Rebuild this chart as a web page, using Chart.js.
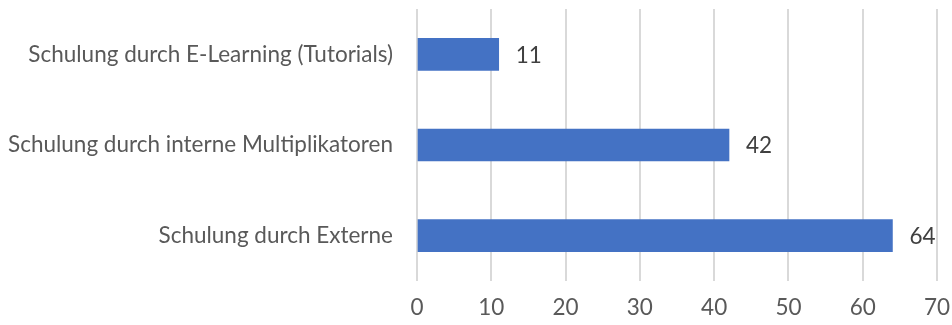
<!DOCTYPE html>
<html>
<head>
<meta charset="utf-8">
<script src="https://cdn.jsdelivr.net/npm/chart.js@4"></script>
<style>
  html, body { margin: 0; padding: 0; background: #fff; }
  #wrap { width: 952px; height: 325px; }
</style>
</head>
<body>
<div id="wrap"><canvas id="chart"></canvas></div>
<script>
// Daten aus dem Diagramm
var categories = [
    "Schulung durch E-Learning (Tutorials)",
    "Schulung durch interne Multiplikatoren",
    "Schulung durch Externe"
];
var values = [11, 42, 64];
var xTicks = [0, 10, 20, 30, 40, 50, 60, 70];

var fontFamily = "Lato, 'Open Sans', sans-serif";
var fontSize = 22.5;

// Werte neben die Balken schreiben
var valueLabels = {
    id: 'valueLabels',
    afterDatasetsDraw: function (chart) {
        var ctx = chart.ctx;
        var meta = chart.getDatasetMeta(0);
        ctx.save();
        ctx.font = fontSize + "px " + fontFamily;
        ctx.fillStyle = "#404040";
        ctx.textAlign = "left";
        ctx.textBaseline = "middle";
        meta.data.forEach(function (bar, i) {
            ctx.fillText(String(values[i]), bar.x + 17, bar.y + 1);
        });
        ctx.restore();
    }
};

var ctx = document.getElementById('chart').getContext('2d');
var chart = new Chart(ctx, {
    type: 'bar',
    data: {
        labels: categories,
        datasets: [{
            data: values,
            backgroundColor: "#4472C4",
            borderWidth: 0,
            barThickness: 32
        }]
    },
    options: {
        indexAxis: 'y',
        responsive: true,
        maintainAspectRatio: false,
        animation: false,
        layout: { padding: { top: 9, right: 15, left: 0, bottom: 0 } },
        plugins: {
            legend: { display: false },
            tooltip: { enabled: false }
        },
        scales: {
            x: {
                min: 0,
                max: 70,
                afterBuildTicks: function (axis) {
                    axis.ticks = xTicks.map(function (v) { return { value: v }; });
                },
                afterFit: function (axis) {
                    axis.height = 44;
                    axis.paddingLeft = 0;
                    axis.paddingRight = 0;
                },
                grid: { color: "#d9d9d9", lineWidth: 2, drawTicks: false },
                border: { display: false },
                ticks: {
                    padding: 13,
                    color: "#595959",
                    font: { family: fontFamily, size: fontSize }
                }
            },
            y: {
                afterFit: function (axis) {
                    axis.width = 417;
                    axis.paddingTop = 0;
                    axis.paddingBottom = 0;
                },
                grid: { display: false, drawTicks: false },
                border: { display: false },
                ticks: {
                    padding: 24,
                    color: "#595959",
                    font: { family: fontFamily, size: fontSize }
                }
            }
        }
    },
    plugins: [valueLabels]
});
</script>
</body>
</html>
